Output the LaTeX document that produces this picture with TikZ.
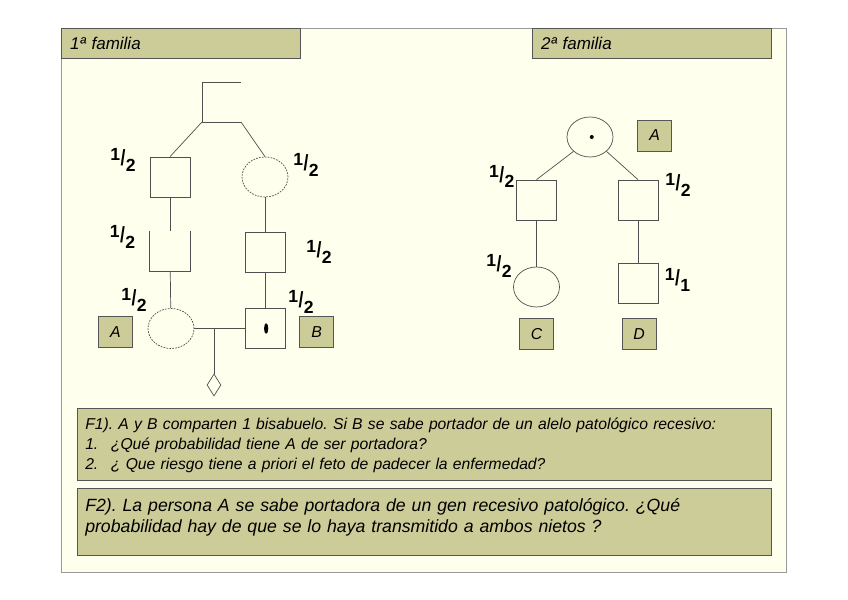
\documentclass[tikz,border=0pt]{standalone}
\usepackage{fontspec}
\setmainfont{Liberation Sans}
\usetikzlibrary{shapes.geometric, positioning}

\definecolor{fondo}{HTML}{FFFFEE}
\definecolor{oliva}{HTML}{CCCC99}
\definecolor{borde}{HTML}{555555}
\definecolor{marco}{HTML}{999999}
\definecolor{trazo}{HTML}{505050}

\newcommand{\fracmano}[2]{\raisebox{0.3em}{#1}\kern0.02em\scalebox{1}[1.25]{/}\kern0.02em\raisebox{-0.32em}{#2}}

\begin{document}
\frenchspacing
\begin{tikzpicture}[x=0.03cm,y=-0.03cm]
\tikzstyle{male}=[rectangle,draw=trazo,line width=0.6pt,minimum size=1.2cm,inner sep=0pt]
\tikzstyle{female}=[ellipse,draw=trazo,line width=0.6pt,minimum width=1.38cm,minimum height=1.2cm,inner sep=0pt]
\tikzstyle{dudosa}=[dash pattern=on 1.5pt off 1pt]
\tikzstyle{letra}=[rectangle,draw=borde,fill=oliva,minimum width=1.02cm,minimum height=0.93cm,font=\fontsize{13.5}{14}\selectfont\itshape]
\tikzstyle{mano}=[inner sep=0pt,font=\fontsize{15}{15}\selectfont\bfseries]
\tikzstyle{linea}=[draw=trazo,line width=0.6pt]
\tikzstyle{cabecera}=[anchor=north west,draw=borde,fill=oliva,minimum height=0.9cm,text width=6.63cm,inner xsep=0.27cm,align=left,font=\fontsize{14.5}{15}\selectfont\itshape]
\tikzstyle{caja}=[anchor=north west,draw=borde,line width=0.8pt,fill=oliva,minimum width=20.83cm]
\tikzstyle{texto}=[inner sep=0pt,text width=20cm,align=left]

\useasboundingbox (0,0) rectangle (848,600);

% Marco
\draw[marco,fill=fondo] (61,28) rectangle (786,572);
% Cabeceras
\node[cabecera] (cab1) at (61,28) {1ª familia};
\node[cabecera] (cab2) at (532,28) {2ª familia};

% 1a familia
\coordinate (bisA) at (202,82);
\coordinate (bisB) at (241,82);
\coordinate (herL) at (202,122);
\coordinate (herR) at (241,122);
\node[male] (ab1) at (170,177) {};
\node[female,dudosa] (ab2) at (265,177) {};
\node[inner sep=0pt,minimum width=1.22cm,minimum height=1.2cm] (pa1) at (170,251) {};
\node[male] (pa2) at (265,252) {};
\node[female,dudosa] (a) at (171,328.5) {};
\node[male] (b) at (265,328.5) {};
\fill ([xshift=1pt]b.center) ellipse [x radius=1.8pt, y radius=4.5pt];
\coordinate (union) at (214,328.5);
\node[diamond,draw=trazo,line width=0.6pt,minimum width=0.42cm,minimum height=0.66cm,inner sep=0pt] (feto) at (214,385) {};
\node[letra] (la) at (115.3,332) {A};
\node[letra] (lb) at (316.7,331.7) {B};

\draw[linea] (bisB) -- (bisA) -- (herL) -- (herR);
\draw[linea] (herL) -- (ab1.north);
\draw[linea] (herR) -- (ab2.north);
\draw[linea] (ab1) -- (pa1);
\draw[linea] (pa1.north west) -- (pa1.south west) -- (pa1.south east) -- (pa1.north east);
\draw[linea] (pa1) -- (a);
\draw[linea] (ab2) -- (pa2);
\draw[linea] (pa2) -- (b);
\draw[linea] (a) -- (b);
\draw[linea] (union) -- (feto);

\node[mano] (pab1) at (123,160) {\fracmano12};
\node[mano] (pab2) at (306,165) {\fracmano12};
\node[mano] (ppa1) at (122.5,236.7) {\fracmano12};
\node[mano] (ppa2) at (319,251.7) {\fracmano12};
\node[mano] (pa) at (134,300) {\fracmano12};
\node[mano] (pb) at (301,302) {\fracmano12};

% 2a familia
\node[female] (r0) at (590,137) {};
\fill ([xshift=1.5pt]r0.center) circle (1.7pt);
\node[letra] (lA) at (654.7,135.3) {A};
\node[male] (r1) at (536.5,200) {};
\node[male] (r2) at (638,200) {};
\node[female] (c) at (536.5,287) {};
\node[male] (d) at (638,283.7) {};
\node[letra] (lC) at (536.7,334) {C};
\node[letra] (lD) at (639.2,334) {D};

\draw[linea] (r0.south west) -- (r1.north);
\draw[linea] (r0.south east) -- (r2.north);
\draw[linea] (r1) -- (c);
\draw[linea] (r2) -- (d);

\node[mano] (pr1) at (501.7,176.5) {\fracmano12};
\node[mano] (pr2) at (678,185) {\fracmano12};
\node[mano] (pc) at (499,266) {\fracmano12};
\node[mano] (pd) at (677.5,280) {\fracmano11};

% Preguntas
\node[caja,minimum height=2.15cm] (cf1) at (76.7,408.3) {};
\node[texto,font=\fontsize{13.4}{17}\selectfont\itshape,below right=0.28cm and 0.25cm of cf1.north west] (tf1)
  {F1). A y B comparten 1 bisabuelo. Si B se sabe portador de un alelo patológico recesivo:\\
   \makebox[0.77cm][l]{1.}¿Qué probabilidad tiene A de ser portadora?\\
   \makebox[0.77cm][l]{2.}¿ Que riesgo tiene a priori el feto de padecer la enfermedad?};
\node[caja,minimum height=2.0cm] (cf2) at (76.7,488.3) {};
\node[texto,font=\fontsize{15.1}{18}\selectfont\itshape,below right=0.3cm and 0.25cm of cf2.north west] (tf2)
  {F2). La persona A se sabe portadora de un gen recesivo patológico. ¿Qué\\
   probabilidad hay de que se lo haya transmitido a ambos nietos ?};
\end{tikzpicture}
\end{document}
